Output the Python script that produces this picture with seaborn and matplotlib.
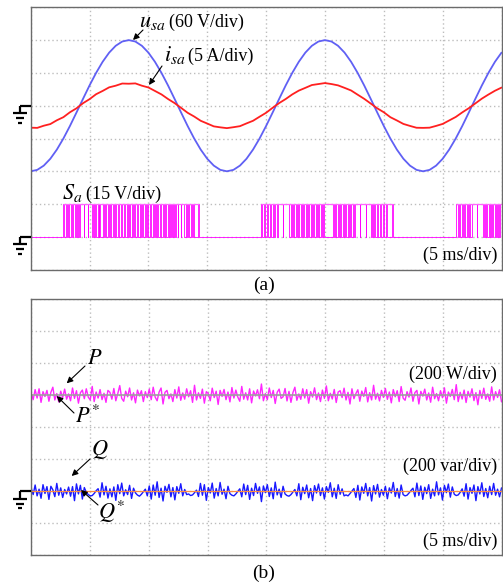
import numpy as np
import pandas as pd
import matplotlib
matplotlib.use("Agg")
import matplotlib.pyplot as plt
import seaborn as sns
from matplotlib.lines import Line2D
from matplotlib.patches import FancyArrowPatch

# ---------------- data ----------------
# (a) grid voltage u_sa [V] and current i_sa [A], 73 samples over 40 ms
u_sa_V = [-120.0, -117.4, -109.6, -97.1, -80.3, -60.0, -37.1, -12.5, 12.5, 37.1,
          60.0, 80.3, 97.1, 109.6, 117.4, 120.0, 117.4, 109.6, 97.1, 80.3,
          60.0, 37.1, 12.5, -12.5, -37.1, -60.0, -80.3, -97.1, -109.6, -117.4,
          -120.0, -117.4, -109.6, -97.1, -80.3, -60.0, -37.1, -12.5, 12.5, 37.1,
          60.0, 80.3, 97.1, 109.6, 117.4, 120.0, 117.4, 109.6, 97.1, 80.3,
          60.0, 37.1, 12.5, -12.5, -37.1, -60.0, -80.3, -97.1, -109.6, -117.4,
          -120.0, -117.4, -109.6, -97.1, -80.3, -60.0, -37.1, -12.5, 12.5, 37.1,
          60.0, 80.3, 97.1]
i_sa_A = [-3.35, -3.38, -3.05, -2.80, -2.22, -1.75, -1.00, -0.40, 0.38, 1.00,
          1.75, 2.25, 2.80, 3.05, 3.38, 3.35, 3.40, 3.05, 2.78, 2.25,
          1.72, 1.02, 0.40, -0.33, -1.08, -1.65, -2.30, -2.72, -3.15, -3.30,
          -3.42, -3.28, -3.12, -2.70, -2.30, -1.68, -1.08, -0.32, 0.40, 1.02,
          1.72, 2.30, 2.72, 3.15, 3.30, 3.45, 3.30, 3.10, 2.72, 2.32,
          1.68, 1.05, 0.33, -0.40, -1.00, -1.75, -2.25, -2.78, -3.08, -3.36,
          -3.38, -3.35, -3.08, -2.78, -2.25, -1.72, -1.02, -0.38, 0.35, 1.08,
          1.70, 2.28, 2.76]

# switching signal S_a: on-intervals (ms) of the 15 V pulses, three bursts
sa_burst1_ms = [(2.74, 2.83), (3.00, 3.08), (3.17, 3.25), (3.42, 3.51), (3.59, 3.76),
                (3.85, 3.93), (4.02, 4.14), (4.19, 4.52), (4.57, 4.86), (4.91, 5.20),
                (5.29, 5.37), (5.46, 5.54), (5.71, 5.80), (5.84, 5.93), (6.14, 6.22),
                (6.31, 6.39), (6.56, 6.65), (6.73, 6.82), (6.99, 7.07), (7.20, 7.28),
                (7.41, 7.50), (7.67, 7.75), (7.92, 8.00), (8.17, 8.26), (8.34, 8.43),
                (8.60, 8.68), (8.77, 8.85), (9.02, 9.11), (9.28, 9.36), (9.45, 9.53),
                (9.70, 9.79), (9.87, 9.96), (10.13, 10.21), (10.38, 10.47), (10.55, 10.64),
                (10.72, 10.81), (10.98, 11.06), (11.23, 11.32), (11.40, 11.49), (11.66, 11.74),
                (11.83, 11.91), (12.00, 12.09), (12.17, 12.26), (12.34, 12.51), (12.55, 12.76),
                (12.80, 13.01), (13.18, 13.28), (13.35, 13.44), (13.61, 13.69), (13.78, 13.86),
                (14.20, 14.29)]
sa_burst2_ms = [(19.55, 19.64), (19.80, 19.89), (20.06, 20.14), (20.31, 20.40), (20.57, 20.70),
                (20.78, 20.91), (20.99, 21.42), (21.46, 21.97), (22.10, 22.18), (22.27, 22.35),
                (22.52, 22.61), (22.69, 22.78), (22.95, 23.03), (23.12, 23.20), (23.37, 23.46),
                (23.54, 23.63), (23.80, 23.88), (23.97, 24.05), (24.22, 24.30), (24.39, 24.47),
                (24.64, 24.73), (24.81, 24.90), (25.66, 25.75), (25.83, 25.92), (26.09, 26.17),
                (26.26, 26.34), (26.51, 26.60), (26.68, 26.77), (26.94, 27.02), (27.11, 27.19),
                (27.36, 27.49), (27.53, 27.95), (28.00, 28.46), (28.51, 28.89), (28.97, 29.06),
                (29.14, 29.23), (29.40, 29.48), (29.65, 29.74), (29.91, 29.99), (30.16, 30.25),
                (30.67, 30.76)]
sa_burst3_ms = [(36.15, 36.27), (36.36, 36.44), (36.61, 36.70), (36.78, 36.87), (37.04, 37.12),
                (37.21, 37.29), (37.46, 37.89), (37.93, 38.40), (38.48, 38.57), (38.65, 38.74),
                (38.91, 38.99), (39.08, 39.16), (39.29, 39.42), (39.50, 39.58), (39.67, 39.80),
                (39.88, 40.00)]
sa_high_V = 15.0

# (b) active / reactive power references and measured ripple around them
p_ref_W = 600.0
q_ref_var = 0.0
p_ripple_W = [12, -28, 35, -18, 40, -45, 22, -8, 30, -38, 18, 50, -30, 10, -42, 25, -15, 38, -25, 8,
              -35, 45, -20, 28, -50, 15, 32, -22, 40, -12, -30, 55, -40, 20, -18, 35, -28, 12, -45, 30,
              18, -25, 42, -35, 10, 60, -20, -38, 25, -10, 45, -30, 15, -48, 32, -5, 28, -40, 22, -15,
              38, -28, 50, -12, -35, 20, 45, -55, 18, 30, -22, 8, -40, 35, -18, 52, -32, 14, -25, 40,
              -10, 28, -45, 62, -30, 15, -20, 38, -50, 22, 10, -35, 44, -15, 25, -58, 30, -8, 36, -28,
              20, -42, 48, -18, 32, -12, -38, 55, -25, 15, -30, 40, -48, 26, -5, 34, -22, 70, -35, 10,
              -28, 45, -15, 30, -52, 18, 38, -20, -10, 42, -36, 24, -45, 16, 50, -32, 8, -26, 40, -18,
              35, -50, 22, -12, 46, -28, 14, -40, 32, -20, 58, -35, 12, -24, 36, -46, 20, 28, -15, 44,
              -30, 18, -55, 40, -22, 10, 34, -38, 26, -8, 48, -42, 16, -30, 62, -25, 12, -36, 30, -14,
              42, -26, 20, -48, 35, -10, 28, -40, 54, -18, -32, 22, -12, 45, -38, 16, 30, -55, 24, -6,
              38, -30, 14, -44, 50, -22, 10, -35, 28, -16, 46, -50, 20, -8, 36, -28, 66, -40, 18, -24,
              32, -46, 24, -12, 40, -34, 16, -60, 30, -20, 44, -26, 8, -38, 52, -30, 22, -14, 34, -42]
q_ripple_var = [18, -22, 38, -30, 12, -45, 40, -15, 28, -52, 30, 8, -35, 48, -26, 20, -40, 10, -18, 25,
                -32, 28, -60, 45, -18, 36, -50, 22, -8, -22, -30, -28, -15, 2, 15, -38, 52, -24, 30, -44,
                14, -36, 26, -58, 40, -16, 50, -30, 8, -22, 36, -46, 18, -12, -25, -32, -20, -4, 12, -30,
                32, -50, 38, -26, 58, -40, 18, -62, 30, -8, 42, -36, 22, -55, 28, -14, 46, -30, 10, -22,
                -18, -28, -24, -10, 6, -34, 48, -26, 40, -58, 22, -12, 50, -44, 16, -30, 54, -20, 12, -48,
                30, -16, -26, -30, -18, -2, 14, -36, 44, -22, 36, -52, 18, -28, 48, -14, 26, -66, 32, -10,
                40, -34, 20, -48, 56, -24, 12, -40, 30, -18, -28, -32, -22, -6, 10, -30, 46, -54, 24, -16,
                38, -42, 16, -60, 34, -12, 44, -28, 20, -50, 28, -8, 52, -36, 18, -46, 40, -20, 14, -30,
                -24, -30, -16, 0, 16, -40, 36, -56, 26, -14, 48, -30, 22, -62, 34, -18, 42, -38, 10, -26,
                30, -48, 20, -12, 54, -34, 16, -44, 38, -22, -30, -26, -12, 4, 18, -36, 50, -28, 32, -52,
                24, -16, 40, -46, 12, -30, 58, -24, 20, -56, 36, -10, 44, -38, 26, -20, -28, -24, -8, 14,
                -32, 46, -50, 22, -14, 38, -60, 28, -18, 52, -34, 16, -42, 30, -22, 48, -26, 12, -36, 20]

# scope settings (per-division scales and ground offsets in divisions)
T_END_MS = 40.0
U_PER_DIV, I_PER_DIV, S_PER_DIV = 60.0, 5.0, 15.0
PQ_PER_DIV = 200.0
GND_UI, GND_S, GND_PQ = 5, 1, 2

# ---------------- build tables ----------------
t_ui = np.linspace(0, T_END_MS, len(u_sa_V))
df_a = pd.DataFrame({"t": t_ui,
                     "u": np.array(u_sa_V) / U_PER_DIV + GND_UI,
                     "i": np.array(i_sa_A) / I_PER_DIV + GND_UI})

s_t, s_v = [0.0], [0.0]
for burst in (sa_burst1_ms, sa_burst2_ms, sa_burst3_ms):
    for on, off in burst:
        s_t += [on, on, off, off]
        s_v += [0.0, sa_high_V, sa_high_V, 0.0]
s_t.append(T_END_MS)
s_v.append(0.0)
df_s = pd.DataFrame({"t": s_t, "s": np.array(s_v) / S_PER_DIV + GND_S})

t_pq = np.linspace(0, T_END_MS, len(p_ripple_W))
df_b = pd.DataFrame({"t": t_pq,
                     "p": (p_ref_W + np.array(p_ripple_W)) / PQ_PER_DIV + GND_PQ,
                     "pref": np.full(len(t_pq), p_ref_W) / PQ_PER_DIV + GND_PQ,
                     "q": (q_ref_var + np.array(q_ripple_var)) / PQ_PER_DIV + GND_PQ,
                     "qref": np.full(len(t_pq), q_ref_var) / PQ_PER_DIV + GND_PQ})

# ---------------- style ----------------
sns.set_theme(style="white")
plt.rcParams['font.family'] = ['Liberation Serif', 'DejaVu Serif']
plt.rcParams['mathtext.fontset'] = 'stix'

W_PX, H_PX = 503, 586
fig = plt.figure(figsize=(W_PX / 100, H_PX / 100), dpi=100)
fig.patch.set_facecolor("white")


def fx(x):
    return x / W_PX


def fy(y):
    return 1 - y / H_PX


ax_a = fig.add_axes([fx(30.7), fy(269.7), (501.5 - 30.7) / W_PX, (269.7 - 7.3) / H_PX])
ax_b = fig.add_axes([fx(31.2), fy(555.0), (501.5 - 31.2) / W_PX, (555.0 - 299.3) / H_PX])

for ax in (ax_a, ax_b):
    ax.set_xlim(0, T_END_MS)
    ax.set_ylim(0, 8)
    ax.set_xticks(np.arange(0, T_END_MS + 0.1, 5))
    ax.set_yticks(np.arange(0, 9, 1))
    ax.tick_params(length=0, labelbottom=False, labelleft=False)
    ax.grid(True, color="#bdbdbd", linestyle=(0, (1, 2)), linewidth=1.0)
    for sp in ax.spines.values():
        sp.set_color("#6b6b6b")
        sp.set_linewidth(1.0)
    ax.set_facecolor("white")

# ---------------- panel (a) ----------------
sns.lineplot(data=df_a, x="t", y="u", ax=ax_a, color="#6060f4", linewidth=1.3,
             estimator=None, sort=False)
sns.lineplot(data=df_a, x="t", y="i", ax=ax_a, color="#ff2020", linewidth=1.3,
             estimator=None, sort=False)
sns.lineplot(data=df_s, x="t", y="s", ax=ax_a, color="#ff00ff", linewidth=0.6,
             estimator=None, sort=False)
for burst in (sa_burst1_ms, sa_burst2_ms, sa_burst3_ms):
    ax_a.hlines(sa_high_V / S_PER_DIV + GND_S, burst[0][0], burst[-1][1],
                color="#ff66ff", linewidth=0.9)
ax_a.set_xlabel("")
ax_a.set_ylabel("")

# ---------------- panel (b) ----------------
sns.lineplot(data=df_b, x="t", y="p", ax=ax_b, color="#ff00ff", linewidth=1.0,
             estimator=None, sort=False, alpha=0.85)
sns.lineplot(data=df_b, x="t", y="pref", ax=ax_b, color="#a0a0a0", linewidth=1.2,
             estimator=None, sort=False)
sns.lineplot(data=df_b, x="t", y="q", ax=ax_b, color="#0000ff", linewidth=1.0,
             estimator=None, sort=False, alpha=0.9)
sns.lineplot(data=df_b, x="t", y="qref", ax=ax_b, color="#ff8c40", linewidth=0.9,
             estimator=None, sort=False)
ax_b.set_xlabel("")
ax_b.set_ylabel("")

# ---------------- texts ----------------
TXT = 13
SYM = 16
LAB = 14


def ftext(x, y, s, size=TXT, ha="left"):
    fig.text(fx(x), fy(y), s, fontsize=size, ha=ha, va="baseline", color="black")


def farrow(tail, head):
    fig.add_artist(FancyArrowPatch(
        (fx(tail[0]), fy(tail[1])), (fx(head[0]), fy(head[1])),
        transform=fig.transFigure, arrowstyle="-|>", mutation_scale=9,
        color="black", linewidth=0.8, shrinkA=0, shrinkB=0))


ftext(139, 27, r"$u_{sa}$", SYM)
ftext(169, 27, "(60 V/div)")
farrow((143, 30), (133, 40))
ftext(164, 61, r"$i_{sa}$", SYM)
ftext(188, 61, "(5 A/div)")
farrow((162, 66), (149, 85))
ftext(62, 199, r"$S_a$", SYM)
ftext(86, 199, "(15 V/div)")
ftext(497, 260, "(5 ms/div)", ha="right")
ftext(264, 290, "(a)", LAB, ha="center")

ftext(87, 364, r"$P$", SYM)
farrow((85, 366), (66.7, 383.3))
ftext(75, 423, r"$P^{*}$", SYM)
farrow((74, 413), (56.7, 396))
ftext(91, 455, r"$Q$", SYM)
farrow((90, 459), (71.7, 476))
ftext(98, 519, r"$Q^{*}$", SYM)
farrow((98, 505), (81, 490))
ftext(497, 379, "(200 W/div)", ha="right")
ftext(497, 470.5, "(200 var/div)", ha="right")
ftext(497, 545.5, "(5 ms/div)", ha="right")
ftext(264, 578, "(b)", LAB, ha="center")


# ---------------- ground markers ----------------
def ground(ax, level):
    x0, y0 = ax.transData.transform((0, level))
    yg = H_PX - y0  # pixel from top
    xl = x0
    segs = [((20, yg), (xl, yg)), ((20, yg), (20, yg + 7.6)),
            ((13.0, yg + 7.6), (26.8, yg + 7.6)),
            ((16.0, yg + 12.6), (23.8, yg + 12.6)),
            ((18.0, yg + 17.2), (22.0, yg + 17.2))]
    for (xa, ya), (xb, yb) in segs:
        fig.add_artist(Line2D([fx(xa), fx(xb)], [fy(ya), fy(yb)],
                              transform=fig.transFigure, color="black",
                              linewidth=1.6, solid_capstyle="butt"))


ground(ax_a, GND_UI)
ground(ax_a, GND_S)
ground(ax_b, GND_PQ)

fig.savefig("out.png", dpi=100, facecolor="white")
